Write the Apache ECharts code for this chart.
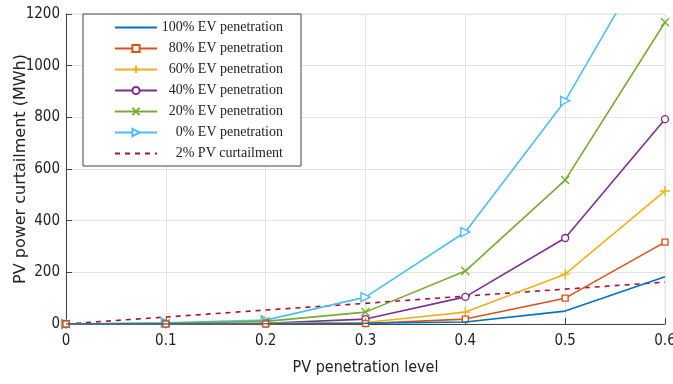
<!DOCTYPE html>
<html><head><meta charset="utf-8">
<script src="https://cdn.jsdelivr.net/npm/echarts@6/dist/echarts.min.js"></script>
<style>html,body{margin:0;padding:0;background:#fff}#c{width:673px;height:384px}</style>
</head><body><div id="c"></div>
<script>
const xValues = [0, 0.1, 0.2, 0.3, 0.4, 0.5, 0.6];
const ev100 = [0, 0, 1, 3, 8, 50, 183];
const ev80 = [0, 0, 0, 2, 19, 100, 317];
const ev60 = [0, 1, 3, 6, 46, 193, 515];
const ev40 = [0, 1, 3, 19, 105, 333, 793];
const ev20 = [0, 3, 10, 46, 205, 557, 1168];
const ev0 = [0, 5, 15, 104, 356, 864, 1530];
const pv2 = [0, 27, 54, 80, 108, 135, 162];
const names = ['100% EV penetration', '80% EV penetration', '60% EV penetration', '40% EV penetration', '20% EV penetration', '0% EV penetration', '2% PV curtailment'];
const colors = ['#0072BD', '#D95319', '#EDB120', '#7E2F8E', '#77AC30', '#4DBEEE', '#A2142F'];
const symbols = ['none', 'rect', 'path://M5 0 L5 10 M0 5 L10 5', 'circle', 'path://M0 0 L10 10 M10 0 L0 10', 'path://M0 0 L10 5 L0 10 Z', 'none'];
const sizes = [0, 6, 10, 7, 8, 9, 0];
const allData = [ev100, ev80, ev60, ev40, ev20, ev0, pv2];

const series = allData.map((d, i) => ({
  name: names[i],
  type: 'line',
  data: d.map((v, j) => [xValues[j], v]),
  symbol: symbols[i],
  symbolSize: sizes[i],
  showSymbol: symbols[i] !== 'none',
  color: colors[i],
  lineStyle: { width: 1.6, color: colors[i], type: i === 6 ? [5, 5] : 'solid' },
  itemStyle: { color: '#fff', borderColor: colors[i], borderWidth: 1.4 },
  clip: true,
  z: 10 - i
}));

const legendData = names.map((n, i) => symbols[i] === 'none'
  ? { name: n, itemStyle: { color: 'transparent', borderColor: 'transparent', borderWidth: 0 } }
  : { name: n });

const chart = echarts.init(document.getElementById('c'));
chart.setOption({
  animation: false,
  grid: { left: 66, right: 8, top: 14, bottom: 60, show: true, borderColor: '#e6e6e6', borderWidth: 1, containLabel: false, outerBoundsMode: 'none' },
  xAxis: {
    type: 'value', min: 0, max: 0.6, interval: 0.1,
    name: 'PV penetration level', nameLocation: 'middle', nameGap: 36, nameMoveOverlap: false,
    nameTextStyle: { fontFamily: 'DejaVu Sans Condensed', fontSize: 16, color: '#222' },
    axisLine: { show: true, onZero: false, lineStyle: { color: '#444', width: 1 } },
    axisTick: { show: true, inside: true, length: 6, lineStyle: { color: '#444' } },
    axisLabel: { fontFamily: 'DejaVu Sans Condensed', fontSize: 15, color: '#222', margin: 10 },
    splitLine: { show: true, lineStyle: { color: '#e3e3e3', width: 1 } }
  },
  yAxis: {
    type: 'value', min: 0, max: 1200, interval: 200,
    name: 'PV power curtailment (MWh)', nameLocation: 'middle', nameGap: 37, nameMoveOverlap: false,
    nameTextStyle: { fontFamily: 'DejaVu Sans', fontSize: 16, color: '#222' },
    axisLine: { show: true, lineStyle: { color: '#444', width: 1 } },
    axisTick: { show: true, inside: true, length: 6, lineStyle: { color: '#444' } },
    axisLabel: { fontFamily: 'DejaVu Sans Condensed', fontSize: 15, color: '#222', margin: 6, formatter: v => String(v) },
    splitLine: { show: true, lineStyle: { color: '#e3e3e3', width: 1 } }
  },
  legend: {
    orient: 'vertical', left: 83, top: 14, width: 217,
    backgroundColor: '#fff', borderColor: '#444', borderWidth: 1,
    padding: [6, 18, 5, 31], itemGap: 6, itemWidth: 42, itemHeight: 9,
    data: legendData,
    formatter: n => '{a|' + n + '}',
    textStyle: {
      rich: { a: { fontFamily: 'Liberation Serif', fontSize: 14, lineHeight: 15, height: 15, color: '#222', width: 121, align: 'right' } }
    }
  },
  series: series
});
</script></body></html>
